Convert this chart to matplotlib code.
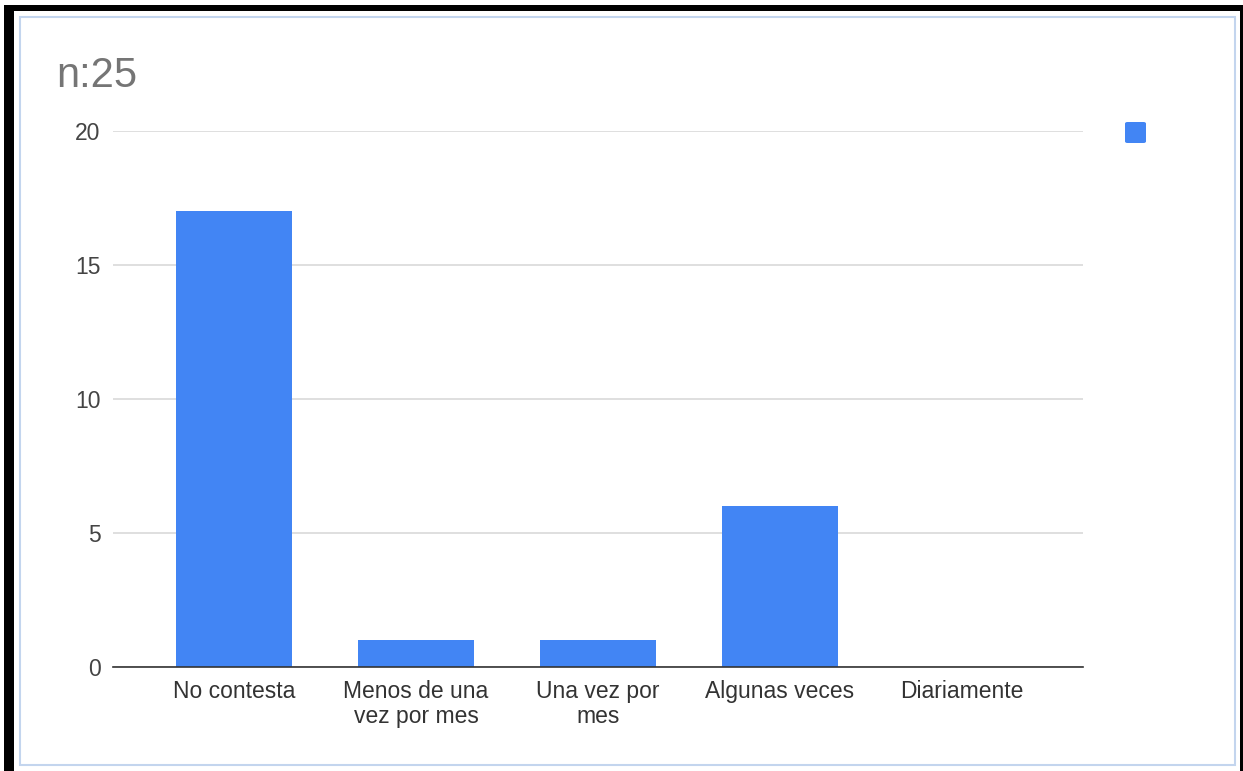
import matplotlib
matplotlib.use("Agg")
import matplotlib.pyplot as plt
from matplotlib.patches import Rectangle, FancyBboxPatch

categories = ["No contesta", "Menos de una\nvez por mes", "Una vez por\nmes", "Algunas veces", "Diariamente"]
counts = [17, 1, 1, 6, 0]
y_ticks = [0, 5, 10, 15, 20]
title = "n:25"

W, H = 1243, 771
plt.rcParams["font.family"] = ["Liberation Sans", "DejaVu Sans"]
fig = plt.figure(figsize=(W / 100, H / 100), dpi=100)
fig.patch.set_facecolor("white")

def fx(px):
    return px / W

def fy(py):
    return 1 - py / H

# black outer frame
for (x0, y0, x1, y1) in [(4, 5, 14, H), (4, 5, W, 11), (1240, 5, W, H)]:
    fig.add_artist(Rectangle((fx(x0), fy(y1)), fx(x1) - fx(x0), fy(y0) - fy(y1),
                             transform=fig.transFigure, facecolor="black",
                             edgecolor="none", zorder=0))
# light blue inner border
fig.add_artist(Rectangle((fx(20), fy(765)), fx(1235) - fx(20), fy(17) - fy(765),
                         transform=fig.transFigure, facecolor="white",
                         edgecolor="#c3d5ee", linewidth=1.5, zorder=0))

ax = fig.add_axes([fx(113), fy(667), fx(1083) - fx(113), fy(131) - fy(667)])
ax.set_facecolor("none")
x = list(range(len(categories)))
ax.bar(x, counts, width=0.637, color="#4285f4", zorder=3)
ax.set_xlim(-0.665, len(categories) - 1 + 0.665)
ax.set_ylim(0, 20)
ax.set_yticks(y_ticks)
ax.set_yticklabels([str(v) for v in y_ticks], fontsize=16.5, color="#444444")
ax.set_xticks(x)
ax.set_xticklabels(categories, fontsize=16.5, color="#333333", linespacing=1.08)
ax.tick_params(axis="both", length=0)
ax.tick_params(axis="y", pad=9)
ax.tick_params(axis="x", pad=9.5)
ax.grid(axis="y", color="#d9d9d9", linewidth=1.2, zorder=0)
for s in ["top", "right", "left"]:
    ax.spines[s].set_visible(False)
ax.spines["bottom"].set_color("#333333")
ax.spines["bottom"].set_linewidth(1.2)
ax.spines["bottom"].set_zorder(4)

fig.text(fx(56), fy(76), title, fontsize=30, color="#757575", va="center", ha="left")

# legend swatch
fig.add_artist(FancyBboxPatch((fx(1125), fy(143)), fx(21), fy(122) - fy(143),
                              boxstyle="round,pad=0,rounding_size=0.002",
                              transform=fig.transFigure, facecolor="#4285f4",
                              edgecolor="none"))

fig.savefig("out.png", dpi=100)
